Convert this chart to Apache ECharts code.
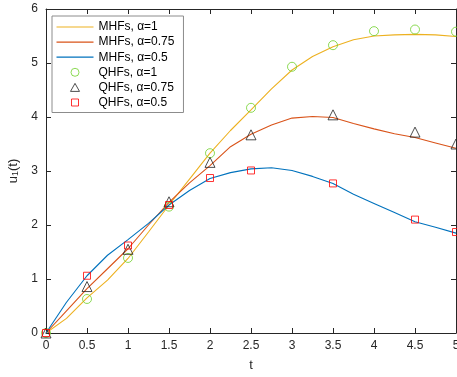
<!DOCTYPE html>
<html><head><meta charset="utf-8">
<script src="https://cdn.jsdelivr.net/npm/echarts@6/dist/echarts.min.js"></script>
<style>html,body{margin:0;padding:0;background:#fff}#c{width:457px;height:377px}</style>
</head><body><div id="c"></div>
<script>
// Data
var tLine = [0,0.25,0.5,0.75,1,1.25,1.5,1.75,2,2.25,2.5,2.75,3,3.25,3.5,3.75,4,4.25,4.5,4.75,5];
var mhf1   = [0,0.27,0.65,0.98,1.38,1.87,2.37,2.85,3.33,3.75,4.13,4.52,4.87,5.12,5.3,5.43,5.5,5.52,5.53,5.52,5.49];
var mhf075 = [0,0.41,0.82,1.19,1.56,2.0,2.42,2.78,3.1,3.45,3.68,3.85,3.98,4.01,3.99,3.88,3.78,3.69,3.62,3.52,3.42];
var mhf05  = [0,0.57,1.06,1.44,1.73,2.03,2.37,2.64,2.86,2.97,3.04,3.06,3.01,2.9,2.77,2.57,2.40,2.23,2.06,1.96,1.85];
var tQ1 = [0,0.5,1,1.5,2,2.5,3,3.5,4,4.5,5];
var qhf1 = [0,0.63,1.39,2.34,3.33,4.17,4.93,5.33,5.59,5.62,5.58];
var tQ2 = [0,0.5,1,1.5,2,2.5,3.5,4.5,5];
var qhf075 = [0,0.86,1.55,2.43,3.16,3.67,4.04,3.72,3.5];
var qhf05  = [0,1.06,1.62,2.37,2.87,3.01,2.77,2.10,1.87];
var names = ['MHFs, α=1','MHFs, α=0.75','MHFs, α=0.5','QHFs, α=1','QHFs, α=0.75','QHFs, α=0.5'];
var xTicks = [0,0.5,1,1.5,2,2.5,3,3.5,4,4.5,5];
var yTicks = [0,1,2,3,4,5,6];

function pairs(xs, ys){ return xs.map(function(x,i){return [x, ys[i]];}); }
var axisColor = '#262626';
var font = 'Liberation Sans, Arial, sans-serif';
var chart = echarts.init(document.getElementById('c'), null, {renderer:'canvas'});
var tickStyle = {show:true, inside:true, length:5, lineStyle:{color:axisColor,width:1}};
var frame = 'M0,0L0,0ZM37,11L37,11Z';
var lineIcon = 'path://M0,0L37,0L37,1.2L0,1.2Z';
var circIcon = 'path://' + frame + 'M22.5,5.5A4,4,0,1,1,14.5,5.5A4,4,0,1,1,22.5,5.5Z';
var triIcon = 'path://' + frame + 'M14,9.5L23,9.5L18.5,1.5Z';
var sqIcon = 'path://' + frame + 'M15,2L22,2L22,9L15,9Z';
chart.setOption({
  animation:false,
  backgroundColor:'#fff',
  grid:{left:46, right:1, top:9, bottom:44, containLabel:false, outerBoundsMode:'none'},
  xAxis:[{
    type:'value', min:0, max:5, interval:0.5,
    name:'t', nameLocation:'middle', nameGap:26,
    nameTextStyle:{fontFamily:font, fontSize:13, color:axisColor},
    axisLine:{show:true, onZero:false, lineStyle:{color:axisColor,width:1}},
    axisTick:tickStyle,
    axisLabel:{fontFamily:font, fontSize:12, color:axisColor, margin:7,
      formatter:function(v){return xTicks.indexOf(v)>=0 ? String(v) : '';}},
    splitLine:{show:false}
  },{
    type:'value', min:0, max:5, interval:0.5, position:'top',
    axisLine:{show:true, onZero:false, lineStyle:{color:axisColor,width:1}},
    axisTick:tickStyle, axisLabel:{show:false}, splitLine:{show:false}
  }],
  yAxis:[{
    type:'value', min:0, max:6, interval:1,
    name:'{a|u}{s|1}{a|(t)}', nameLocation:'middle', nameGap:13, nameRotate:90,
    nameTextStyle:{rich:{
      a:{fontFamily:font, fontSize:13, color:axisColor},
      s:{fontFamily:font, fontSize:9, color:axisColor, padding:[6,0,0,0]}
    }},
    axisLine:{show:true, onZero:false, lineStyle:{color:axisColor,width:1}},
    axisTick:tickStyle,
    axisLabel:{fontFamily:font, fontSize:12, color:axisColor, margin:8,
      formatter:function(v){return yTicks.indexOf(v)>=0 ? String(v) : '';}},
    splitLine:{show:false}
  },{
    type:'value', min:0, max:6, interval:1, position:'right',
    axisLine:{show:true, onZero:false, lineStyle:{color:axisColor,width:1}},
    axisTick:tickStyle, axisLabel:{show:false}, splitLine:{show:false}
  }],
  legend:{
    orient:'vertical', left:52, top:16,
    data:[
      {name:names[0], icon:lineIcon},
      {name:names[1], icon:lineIcon},
      {name:names[2], icon:lineIcon},
      {name:names[3], icon:circIcon},
      {name:names[4], icon:triIcon},
      {name:names[5], icon:sqIcon}
    ],
    symbolKeepAspect:true,
    itemWidth:37, itemHeight:11, itemGap:3.1,
    padding:[5,9,4,4],
    itemStyle:{borderWidth:1},
    backgroundColor:'#fff', borderColor:'#8c8c8c', borderWidth:1, borderRadius:0,
    textStyle:{fontFamily:font, fontSize:12, lineHeight:12, color:'#000'}
  },
  series:[
    {name:names[0], type:'line', data:pairs(tLine,mhf1), symbol:'none', lineStyle:{color:'#EDB120',width:1.1}, itemStyle:{color:'#EDB120'}, z:2},
    {name:names[1], type:'line', data:pairs(tLine,mhf075), symbol:'none', lineStyle:{color:'#D95319',width:1.1}, itemStyle:{color:'#D95319'}, z:2},
    {name:names[2], type:'line', data:pairs(tLine,mhf05), symbol:'none', lineStyle:{color:'#0072BD',width:1.1}, itemStyle:{color:'#0072BD'}, z:2},
    {name:names[3], type:'scatter', data:pairs(tQ1,qhf1), symbol:'circle', symbolSize:9,
      itemStyle:{color:'rgba(255,255,255,0)', borderColor:'#6fd12b', borderWidth:1}, z:3},
    {name:names[4], type:'scatter', data:pairs(tQ2,qhf075), symbol:'triangle', symbolSize:10,
      itemStyle:{color:'rgba(255,255,255,0)', borderColor:'#222', borderWidth:1}, z:3},
    {name:names[5], type:'scatter', data:pairs(tQ2,qhf05), symbol:'rect', symbolSize:7,
      itemStyle:{color:'rgba(255,255,255,0)', borderColor:'#ff0000', borderWidth:1}, z:3}
  ]
});
</script></body></html>
